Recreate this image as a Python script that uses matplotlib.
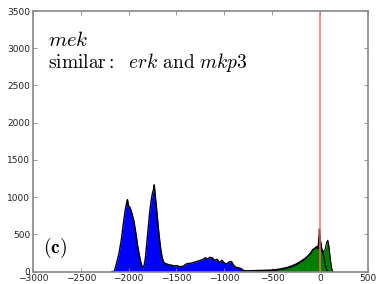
import matplotlib
matplotlib.use("Agg")
import matplotlib.pyplot as plt

plt.rcParams['mathtext.fontset'] = 'cm'

# Blue histogram (bin position, count)
blue_x = [-2175, -2150, -2125, -2100, -2075, -2055, -2035, -2020, -2012, -2000,
          -1985, -1965, -1945, -1925, -1905, -1885, -1870, -1855, -1840, -1825,
          -1810, -1795, -1780, -1765, -1750, -1740, -1732, -1722, -1710, -1695,
          -1680, -1665, -1650, -1635, -1620, -1600, -1575, -1550, -1525, -1500,
          -1475, -1450, -1425, -1400, -1375, -1350, -1325, -1300, -1275, -1250,
          -1225, -1200, -1175, -1150, -1125, -1100, -1075, -1050, -1025, -1000,
          -975, -950, -925, -900, -875, -850, -825, -800, -775, -750,
          -700, -650, -600, -550, -500, -450, -400, -350, -300, -250,
          -200, -150, -100, -75, -50, -35, -20, -10, -5, 5,
          20, 40, 60, 80]
blue_y = [0, 0, 120, 250, 440, 650, 830, 930, 965, 880,
          860, 780, 680, 520, 340, 200, 110, 60, 70, 180,
          380, 590, 800, 950, 1060, 1100, 1165, 1020, 880, 660,
          470, 310, 190, 130, 110, 100, 90, 85, 75, 80,
          70, 65, 75, 100, 110, 110, 120, 130, 140, 150,
          160, 185, 170, 190, 185, 150, 165, 120, 150, 115,
          100, 130, 135, 80, 55, 50, 40, 15, 10, 10,
          12, 14, 15, 18, 20, 27, 38, 52, 72, 100,
          138, 180, 245, 295, 315, 335, 325, 440, 570, 400,
          280, 200, 60, 0]

# Green histogram (bin position, count)
green_x = [-650, -600, -500, -450, -400, -350, -300, -250, -200, -150,
           -100, -75, -50, -35, -20, -10, -3, 10, 20, 40,
           55, 70, 82, 95, 110, 125, 135]
green_y = [0, 6, 12, 20, 30, 44, 62, 90, 128, 172,
           238, 292, 308, 328, 305, 415, 485, 380, 300, 260,
           300, 390, 420, 330, 150, 30, 0]

marker_x = 0

x_ticks = [-3000, -2500, -2000, -1500, -1000, -500, 0, 500]
y_ticks = [0, 500, 1000, 1500, 2000, 2500, 3000, 3500]

fig = plt.figure(figsize=(3.77, 2.84), dpi=100)
ax = fig.add_axes([0.0875, 0.044, 0.888, 0.917])

ax.fill_between(blue_x, 0, blue_y, color='#0000ff', linewidth=0)
ax.fill_between(green_x, 0, green_y, color='#008000', linewidth=0)
ax.plot(blue_x, blue_y, color='black', lw=1.0)
ax.plot(green_x, green_y, color='black', lw=0.8)
ax.axvline(marker_x, color='#ff6666', lw=1.3, alpha=0.8)

ax.set_xlim(-3000, 500)
ax.set_ylim(0, 3500)
ax.set_xticks(x_ticks)
ax.set_yticks(y_ticks)
ax.set_xticklabels([str(v).replace('-', '\u2212') for v in x_ticks])
ax.tick_params(direction='in', top=True, right=True, labelsize=6.5,
               length=3, width=0.6, color='#888888', labelcolor='#222222', pad=2)
for s in ax.spines.values():
    s.set_color('#888888')
    s.set_linewidth(1.2)

ax.text(0.045, 0.865, r'$mek$', transform=ax.transAxes, fontsize=15)
ax.text(0.045, 0.78, r'$\mathrm{similar{:}}\ \ erk\ \mathrm{and}\ mkp3$',
        transform=ax.transAxes, fontsize=14)
ax.text(0.03, 0.07, r'$\mathbf{(c)}$', transform=ax.transAxes, fontsize=14)

fig.savefig('out.png', dpi=100)
